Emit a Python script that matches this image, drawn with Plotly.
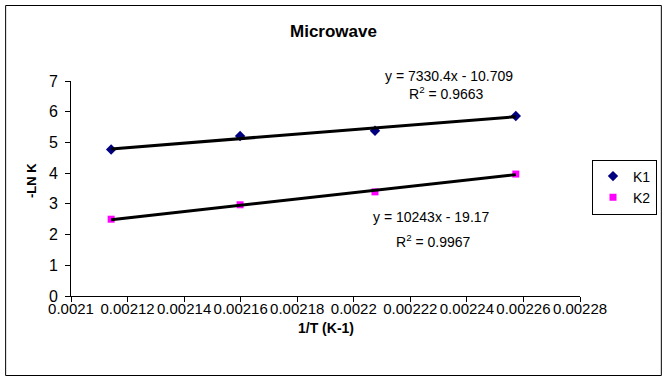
import plotly.graph_objects as go

# ---- data ----
inv_T = [0.0021142, 0.0021598, 0.0022075, 0.0022573]
k1 = [4.77, 5.21, 5.38, 5.86]
k2 = [2.50, 2.97, 3.39, 3.97]
k1_fit = (7330.4, -10.709)
k2_fit = (10243, -19.17)
k1_eq = ["y = 7330.4x - 10.709", "R<sup>2</sup> = 0.9663"]
k2_eq = ["y = 10243x - 19.17", "R<sup>2</sup> = 0.9967"]
x_ticks = [0.0021, 0.00212, 0.00214, 0.00216, 0.00218, 0.0022, 0.00222, 0.00224, 0.00226, 0.00228]
x_tick_labels = ["0.0021", "0.00212", "0.00214", "0.00216", "0.00218", "0.0022", "0.00222", "0.00224", "0.00226", "0.00228"]
y_ticks = [0, 1, 2, 3, 4, 5, 6, 7]

FONT = "Arial, Liberation Sans, sans-serif"
W, H = 668, 381
L, R, T, B = 71, 87, 81, 85
PW, PH = W - L - R, H - T - B

def px(x):  # pixel -> paper x
    return (x - L) / PW

def py(y):  # pixel -> paper y
    return (H - B - y) / PH

fig = go.Figure()
fig.add_trace(go.Scatter(x=inv_T, y=k1, mode="markers", name="K1",
                         marker=dict(symbol="diamond", size=8, color="#000080")))
fig.add_trace(go.Scatter(x=inv_T, y=k2, mode="markers", name="K2",
                         marker=dict(symbol="square", size=7, color="#FF00FF")))
for (m, c) in (k1_fit, k2_fit):
    xs = [inv_T[0], inv_T[-1]]
    fig.add_trace(go.Scatter(x=xs, y=[m * v + c for v in xs], mode="lines",
                             line=dict(color="black", width=3), showlegend=False,
                             hoverinfo="skip"))

ann = []
ann.append(dict(text=k1_eq[0], x=px(450), y=py(76)))
ann.append(dict(text=k1_eq[1], x=px(447), y=py(93)))
ann.append(dict(text=k2_eq[0], x=px(432), y=py(217)))
ann.append(dict(text=k2_eq[1], x=px(434), y=py(241)))
annotations = [dict(a, xref="paper", yref="paper", showarrow=False,
                    xanchor="center", yanchor="middle",
                    font=dict(family=FONT, size=14, color="black")) for a in ann]
annotations.append(dict(text="<b>-LN K</b>", x=px(31), y=py(181), xref="paper", yref="paper",
                        showarrow=False, textangle=-90, xanchor="center", yanchor="middle",
                        font=dict(family=FONT, size=13, color="black")))
annotations.append(dict(text="<b>1/T (K-1)</b>", x=px(326), y=py(328), xref="paper", yref="paper",
                        showarrow=False, xanchor="center", yanchor="middle",
                        font=dict(family=FONT, size=14, color="black")))
annotations.append(dict(text="<b>Microwave</b>", x=px(334), y=py(31), xref="paper", yref="paper",
                        showarrow=False, xanchor="center", yanchor="middle",
                        font=dict(family=FONT, size=17, color="black")))

bx0, bx1, by0, by1 = px(5.5), px(662.5), py(5.5), py(375.5)
border = [dict(type="line", xref="paper", yref="paper", x0=a, y0=b, x1=c, y1=d,
               line=dict(color="black", width=1), layer="above")
          for (a, b, c, d) in [(bx0, by0, bx1, by0), (bx0, by1, bx1, by1),
                               (bx0, by0, bx0, by1), (bx1, by0, bx1, by1)]]

fig.update_layout(
    width=W, height=H,
    margin=dict(l=L, r=R, t=T, b=B),
    paper_bgcolor="white", plot_bgcolor="white",
    font=dict(family=FONT, size=14, color="black"),
    showlegend=True,
    legend=dict(x=px(657), y=py(187), xanchor="right", yanchor="middle",
                bordercolor="black", borderwidth=1, bgcolor="white",
                font=dict(family=FONT, size=14, color="black"),
                itemwidth=30, tracegroupgap=0),
    annotations=annotations,
    shapes=border,
    xaxis=dict(range=[x_ticks[0], x_ticks[-1]], tickvals=x_ticks, ticktext=x_tick_labels,
               showgrid=False, zeroline=False, showline=True, linecolor="black", linewidth=1,
               ticks="outside", ticklen=5, tickcolor="black", ticklabelstandoff=-6,
               tickfont=dict(family=FONT, size=15)),
    yaxis=dict(range=[0, 7], tickvals=y_ticks, showgrid=False, zeroline=False,
               showline=True, linecolor="black", linewidth=1,
               ticks="outside", ticklen=5, tickcolor="black", ticklabelstandoff=4,
               tickfont=dict(family=FONT, size=16)),
)

fig.write_html("out.html", config={"displayModeBar": False},
               post_script="document.body.style.margin='0';document.body.style.overflow='hidden';")
